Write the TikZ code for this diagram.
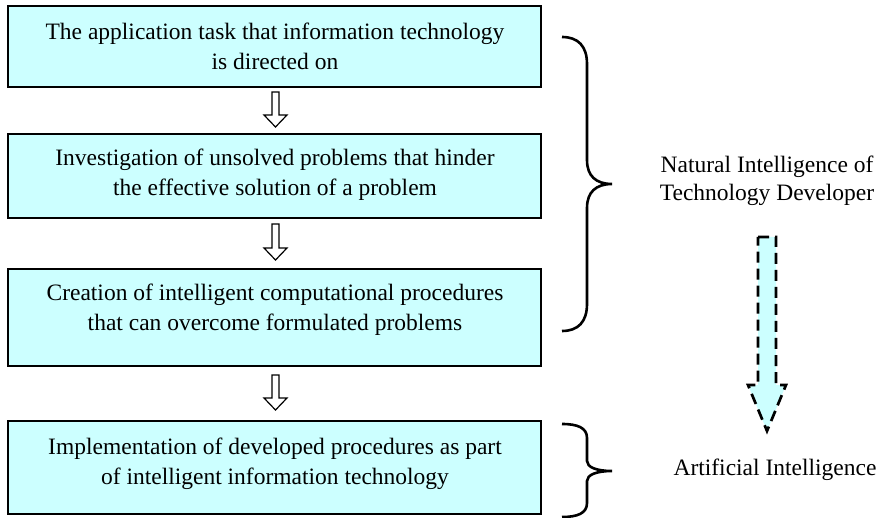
\documentclass[tikz,border=0pt]{standalone}
\usepackage{fontspec}
\setmainfont{Liberation Serif}
\usetikzlibrary{calc}
\definecolor{boxfill}{RGB}{204,255,255}
\tikzset{
  box/.style={draw=black, line width=2.8pt, fill=boxfill, rectangle, inner sep=0pt},
  txt/.style={align=center, inner sep=0pt, font=\fontsize{23.5}{30}\selectfont},
  sidetxt/.style={align=center, inner sep=0pt, font=\fontsize{23.5}{28}\selectfont},
  hollow/.style={draw=black, line width=1.2pt, fill=white, line join=miter},
  bracestyle/.style={draw=black, line width=2.6pt},
  dasharrow/.style={draw=black, line width=2.7pt, fill=boxfill, dash pattern=on 11pt off 6pt}
}
\newcommand\harrow[4]{% cx, top, headbase, tip
  \draw[hollow] (#1-3.5,#2) -- (#1+3.5,#2) -- (#1+3.5,#3) -- (#1+11.5,#3) -- (#1,#4) -- (#1-11.5,#3) -- (#1-3.5,#3) -- cycle;}
\begin{document}
\begin{tikzpicture}[x=1pt,y=-1pt]
\useasboundingbox (0,0) rectangle (883,518);
% boxes
\node[box, minimum width=533pt, minimum height=81pt] (b1) at (274.5,46.5) {};
\node[box, minimum width=533pt, minimum height=84pt] (b2) at (274.5,176) {};
\node[box, minimum width=533pt, minimum height=97pt] (b3) at (274.5,317.5) {};
\node[box, minimum width=533pt, minimum height=93pt] (b4) at (274.5,467.5) {};
% texts
\node[txt] (t1) at (275,46.5) {The application task that information technology\\is directed on};
\node[txt] (t2) at (275,175) {Investigation of unsolved problems that hinder\\the effective solution of a problem};
\node[txt] (t3) at (275,310) {Creation of intelligent computational procedures\\that can overcome formulated problems};
\node[txt] (t4) at (275,464) {Implementation of developed procedures as part\\of intelligent information technology};
% hollow arrows
\harrow{275.5}{92}{115}{127}
\harrow{275.5}{224}{248}{260}
\harrow{275.5}{375}{398}{410}
% braces
\coordinate (br1top) at (562,37);
\coordinate (br1tip) at (612,184);
\coordinate (br1bot) at (562,331);
\draw[bracestyle] (br1top) .. controls (578,37) and (587,46) .. (587,64)
  -- (587,160) .. controls (587,176) and (596,184) .. (br1tip)
  .. controls (596,184) and (587,192) .. (587,208)
  -- (587,304) .. controls (587,322) and (578,331) .. (br1bot);
\coordinate (br2top) at (562,424);
\coordinate (br2tip) at (612,471);
\coordinate (br2bot) at (562,517);
\draw[bracestyle] (br2top) .. controls (578,424) and (587,428) .. (587,438)
  -- (587,461) .. controls (587,467) and (596,471) .. (br2tip)
  .. controls (596,471) and (587,475) .. (587,481)
  -- (587,503) .. controls (587,513) and (578,517) .. (br2bot);
% right labels
\node[sidetxt] (nat) at (767,181) {Natural Intelligence of\\Technology Developer};
\node[sidetxt] (ai) at (775,470) {Artificial Intelligence};
% dashed arrow
\draw[dasharrow] (758,237) -- (776,237) -- (776,385) -- (786,385) -- (767,431) -- (748,385) -- (758,385) -- cycle;
\end{tikzpicture}
\end{document}
